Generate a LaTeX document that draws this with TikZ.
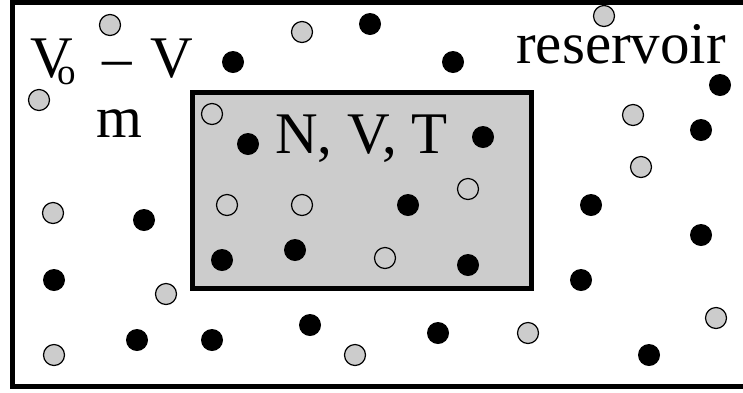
\documentclass[tikz,border=0pt]{standalone}
\usepackage{fontspec}
\setmainfont{Liberation Serif}
\definecolor{boxgray}{HTML}{CCCCCC}
\tikzset{
  bigtext/.style={font=\fontsize{59}{59}\selectfont, inner sep=0pt, anchor=base west},
  subtext/.style={font=\fontsize{37}{37}\selectfont, inner sep=0pt, anchor=base west},
  gball/.style={circle, draw=black, line width=1.2pt, fill=boxgray, minimum size=21pt, inner sep=0pt},
  bball/.style={circle, fill=black, minimum size=22pt, inner sep=0pt},
  frame/.style={line width=5pt}
}
\begin{document}
\begin{tikzpicture}[x=1pt,y=-1pt]
\useasboundingbox (0,0) rectangle (743,392);
\clip (0,0) rectangle (743,392);
\fill[white] (0,0) rectangle (743,392);
% outer reservoir frame
\draw[frame] (760,2.5) -- (12.5,2.5) -- (12.5,386.5) -- (760,386.5);
% inner system box
\node[draw=black, line width=5pt, fill=boxgray, minimum width=339pt, minimum height=196pt, inner sep=0pt] (sys) at (362,190) {};
% labels
\node[bigtext] (V1) at (30,77) {V};
\node[subtext] (sub) at (57,84) {o};
\node[bigtext] (dash) at (102,77) {–};
\node[bigtext] (V2) at (150,77) {V};
\node[bigtext] (m) at (96,137) {m};
\node[bigtext] (nvt) at (275,153) {N, V, T};
\node[bigtext] (res) at (516,63) {reservoir};
% gray balls in reservoir
\foreach \x/\y [count=\i] in {110/25, 302/32, 604/16, 39/100, 633/115, 641/167, 53/213, 166/294, 54/355, 355/355, 528/333, 716/318}
  \node[gball] (g\i) at (\x,\y) {};
% black balls in reservoir
\foreach \x/\y [count=\i] in {233/62, 370/24, 453/62, 720/85, 701/130, 591/205, 144/220, 54/280, 701/235, 581/280, 137/340, 212/340, 310/325, 438/333, 649/355}
  \node[bball] (b\i) at (\x,\y) {};
% open balls in system
\foreach \x/\y [count=\i] in {212/114, 227/205, 302/205, 468/189, 385/258}
  \node[gball] (w\i) at (\x,\y) {};
% black balls in system
\foreach \x/\y [count=\i] in {248/144, 483/137, 408/205, 222/260, 295/250, 468/265}
  \node[bball] (s\i) at (\x,\y) {};
\end{tikzpicture}
\end{document}
